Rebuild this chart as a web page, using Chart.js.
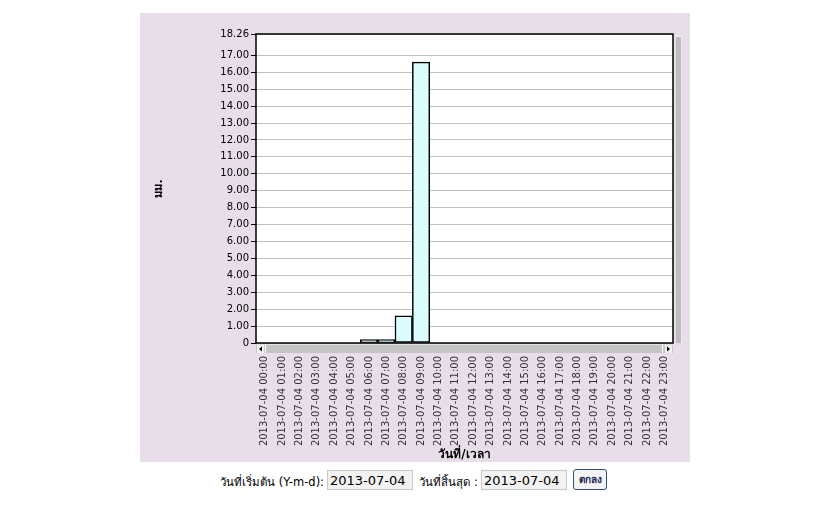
<!DOCTYPE html>
<html>
<head>
<meta charset="utf-8">
<script src="https://cdn.jsdelivr.net/npm/chart.js@4.4.0/dist/chart.umd.min.js"></script>
<style>
  body { margin: 0; background: #fff; font-family: Tahoma, "DejaVu Sans", sans-serif; }
  #panel { position: absolute; left: 140px; top: 13px; width: 550px; height: 449px; background: #e7dee9; }
  #form { position: absolute; left: 0; top: 469px; width: 820px; font-size: 11.5px; color: #000; }
  #form span, #form input, #form button { position: absolute; }
  #form span { text-align: right; white-space: nowrap; }
  #form input { height: 18px; border: 1px solid #c8c8c8; background: #f2f2f2; font-family: inherit; font-size: 13px; padding: 0 2px; box-sizing: content-box; }
  #form button { font-size: 10px; font-weight: bold; padding: 0; border: 1px solid #30507c; border-radius: 3px; background: #f4f4f4; color: #1d2a55; }
</style>
</head>
<body>
<div id="panel"><canvas id="rainChart" width="550" height="449"></canvas></div>
<div id="form">
  <span style="right:496px; top:4px;">วันที่เริ่มต้น (Y-m-d):</span>
  <input style="left:327px; top:1px; width:80px;" value="2013-07-04">
  <span style="right:342px; top:4px;">วันที่สิ้นสุด :</span>
  <input style="left:481px; top:1px; width:80px;" value="2013-07-04">
  <button style="left:573px; top:0px; width:34px; height:21px;">ตกลง</button>
</div>
<script>
// hourly rainfall for 2013-07-04
const hours = [
    '2013-07-04 00:00', '2013-07-04 01:00', '2013-07-04 02:00', '2013-07-04 03:00',
    '2013-07-04 04:00', '2013-07-04 05:00', '2013-07-04 06:00', '2013-07-04 07:00',
    '2013-07-04 08:00', '2013-07-04 09:00', '2013-07-04 10:00', '2013-07-04 11:00',
    '2013-07-04 12:00', '2013-07-04 13:00', '2013-07-04 14:00', '2013-07-04 15:00',
    '2013-07-04 16:00', '2013-07-04 17:00', '2013-07-04 18:00', '2013-07-04 19:00',
    '2013-07-04 20:00', '2013-07-04 21:00', '2013-07-04 22:00', '2013-07-04 23:00'
];
const rainMm = [0, 0, 0, 0, 0, 0, 0.2, 0.2, 1.6, 16.6, 0, 0, 0, 0, 0, 0, 0, 0, 0, 0, 0, 0, 0, 0];
const yTicks = [0, 1, 2, 3, 4, 5, 6, 7, 8, 9, 10, 11, 12, 13, 14, 15, 16, 17, 18.26];
const yMax = 18.26;

// white plot background
const plotBg = {
    id: 'plotBg',
    beforeDraw(chart) {
        const a = chart.chartArea;
        chart.ctx.save();
        chart.ctx.fillStyle = '#fff';
        chart.ctx.fillRect(a.left, a.top, a.right - a.left, a.bottom - a.top);
        chart.ctx.restore();
    }
};

// frame round the plot plus the fake scrollbars of the old applet
const frameAndScroll = {
    id: 'frameAndScroll',
    afterDraw(chart) {
        const ctx = chart.ctx;
        const a = chart.chartArea;
        ctx.save();
        ctx.strokeStyle = '#000';
        ctx.lineWidth = 1.5;
        ctx.strokeRect(a.left, a.top, a.right - a.left, a.bottom - a.top);

        // horizontal scrollbar
        const hy = a.bottom + 2;
        ctx.fillStyle = '#c4c4c4';
        ctx.fillRect(a.left, hy, a.right - a.left, 8);
        ctx.fillStyle = '#f0f0f0';
        ctx.fillRect(a.left + 1, hy, 7, 8);
        ctx.fillRect(a.right - 8, hy, 7, 8);
        ctx.fillStyle = '#fff';
        ctx.fillRect(a.left + 9, hy, 1, 8);
        ctx.fillRect(a.right - 11, hy, 1, 8);
        ctx.fillStyle = '#000';
        ctx.beginPath();
        ctx.moveTo(a.left + 3, hy + 4); ctx.lineTo(a.left + 6, hy + 1.5); ctx.lineTo(a.left + 6, hy + 6.5);
        ctx.fill();
        ctx.beginPath();
        ctx.moveTo(a.right - 3, hy + 4); ctx.lineTo(a.right - 6, hy + 1.5); ctx.lineTo(a.right - 6, hy + 6.5);
        ctx.fill();

        // vertical scrollbar
        const vx = a.right + 3;
        ctx.fillStyle = '#bdbdbd';
        ctx.fillRect(vx, a.top + 1, 5, a.bottom - a.top - 1);
        ctx.fillStyle = '#ececec';
        ctx.fillRect(vx, a.top + 1, 5, 2);
        ctx.fillRect(vx + 5, a.top + 1, 1, a.bottom - a.top - 1);
        ctx.restore();
    }
};

new Chart(document.getElementById('rainChart'), {
    type: 'bar',
    data: {
        labels: hours,
        datasets: [{
            label: 'มม.',
            data: rainMm,
            backgroundColor: '#dcfdfd',
            borderColor: '#000',
            borderWidth: 1.5,
            borderSkipped: false,
            barPercentage: 1,
            categoryPercentage: 1
        }]
    },
    options: {
        responsive: false,
        animation: false,
        devicePixelRatio: 1,
        layout: { padding: { top: 21, right: 17 } },
        plugins: {
            legend: { display: false },
            tooltip: { enabled: false }
        },
        scales: {
            x: {
                grid: { display: false, drawTicks: false },
                border: { display: false },
                afterFit(scale) { scale.height = 119; },
                ticks: {
                    autoSkip: false,
                    minRotation: 90,
                    maxRotation: 90,
                    padding: 13,
                    color: '#333',
                    font: { family: 'DejaVu Sans', size: 10 }
                },
                title: {
                    display: true,
                    text: 'วันที่/เวลา',
                    color: '#000',
                    padding: 0,
                    font: { family: 'Tahoma, DejaVu Sans, sans-serif', size: 12, weight: 'bold' }
                }
            },
            y: {
                min: 0,
                max: yMax,
                afterFit(scale) { scale.width = 116; },
                afterBuildTicks(scale) {
                    scale.ticks = yTicks.map(v => ({ value: v }));
                },
                grid: { color: '#c0c0c0', tickColor: '#000', tickLength: 5 },
                border: { display: false },
                ticks: {
                    padding: 2,
                    color: '#000',
                    font: { family: 'DejaVu Sans', size: 10 },
                    callback: v => v === 0 ? '0' : Number(v).toFixed(2)
                },
                title: {
                    display: true,
                    text: 'มม.',
                    color: '#000',
                    padding: { top: 13, bottom: 0 },
                    font: { family: 'Tahoma, DejaVu Sans, sans-serif', size: 11, weight: 'bold' }
                }
            }
        }
    },
    plugins: [plotBg, frameAndScroll]
});
</script>
</body>
</html>
